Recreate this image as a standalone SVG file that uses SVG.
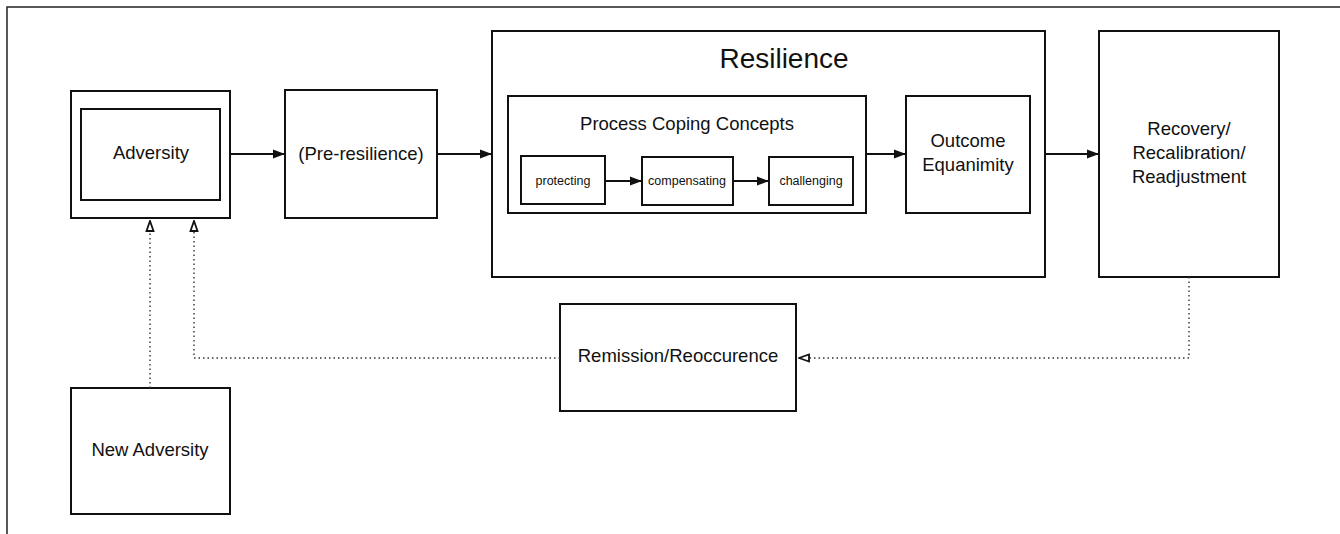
<svg xmlns="http://www.w3.org/2000/svg" width="1340" height="534" viewBox="0 0 1340 534">
<style>
.box{fill:#fff;stroke:#111;stroke-width:2}
.t{font-family:"Liberation Sans",Arial,sans-serif;fill:#111;text-anchor:middle}
.m{font-size:18.5px}
.s{font-size:12.5px}
.c{fill:none;stroke:#111;stroke-width:2}
.d{fill:none;stroke:#333;stroke-width:1.4;stroke-dasharray:1.5 3}
</style>
<defs>
<marker id="a" viewBox="0 0 12 10" refX="12" refY="5" markerWidth="12" markerHeight="10" markerUnits="userSpaceOnUse" orient="auto">
<path d="M0,0.5 L12,5 L0,9.5 Z" fill="#111"/>
</marker>
<marker id="o" viewBox="0 0 12 10" refX="11" refY="5" markerWidth="12" markerHeight="10" markerUnits="userSpaceOnUse" orient="auto">
<path d="M1,1.5 L11,5 L1,8.5 Z" fill="#fff" stroke="#111" stroke-width="1.8"/>
</marker>
</defs>
<rect width="1340" height="534" fill="#fff"/>
<path d="M7,534 V7 H1340" fill="none" stroke="#222" stroke-width="1.5"/>
<g id="adversity">
<rect class="box" x="71" y="91" width="159" height="127"/>
<rect class="box" x="81" y="109" width="139" height="91"/>
<text class="t m" x="151" y="159">Adversity</text>
</g>
<g id="pre-resilience">
<rect class="box" x="285" y="90" width="152" height="128"/>
<text class="t m" x="361" y="160">(Pre-resilience)</text>
</g>
<g id="resilience">
<rect class="box" x="492" y="31" width="553" height="246"/>
<text class="t" font-size="28" x="784" y="68">Resilience</text>
</g>
<g id="process-coping">
<rect class="box" x="508" y="96" width="358" height="117"/>
<text class="t m" x="687" y="130">Process Coping Concepts</text>
</g>
<g id="protecting">
<rect class="box" x="521" y="156" width="84" height="48"/>
<text class="t s" x="563" y="185">protecting</text>
</g>
<g id="compensating">
<rect class="box" x="642" y="157" width="91" height="48"/>
<text class="t s" x="687" y="185">compensating</text>
</g>
<g id="challenging">
<rect class="box" x="769" y="157" width="84" height="48"/>
<text class="t s" x="811" y="185">challenging</text>
</g>
<g id="outcome">
<rect class="box" x="906" y="96" width="124" height="117"/>
<text class="t m" x="968" y="147">Outcome</text>
<text class="t m" x="968" y="171">Equanimity</text>
</g>
<g id="recovery">
<rect class="box" x="1099" y="31" width="180" height="246"/>
<text class="t m" x="1189" y="135">Recovery/</text>
<text class="t m" x="1189" y="159">Recalibration/</text>
<text class="t m" x="1189" y="183">Readjustment</text>
</g>
<g id="remission">
<rect class="box" x="560" y="304" width="236" height="107"/>
<text class="t m" x="678" y="362">Remission/Reoccurence</text>
</g>
<g id="new-adversity">
<rect class="box" x="71" y="388" width="159" height="126"/>
<text class="t m" x="150" y="456">New Adversity</text>
</g>
<g id="connectors">
<line class="c" x1="230" y1="154" x2="285" y2="154" marker-end="url(#a)"/>
<line class="c" x1="437" y1="154" x2="492" y2="154" marker-end="url(#a)"/>
<line class="c" x1="866" y1="154" x2="906" y2="154" marker-end="url(#a)"/>
<line class="c" x1="1045" y1="154" x2="1099" y2="154" marker-end="url(#a)"/>
<line class="c" stroke-width="1.6" x1="605" y1="181" x2="642" y2="181" marker-end="url(#a)"/>
<line class="c" stroke-width="1.6" x1="733" y1="181" x2="769" y2="181" marker-end="url(#a)"/>
<polyline class="d" points="1189,277 1189,358 799,358" marker-end="url(#o)"/>
<polyline class="d" points="560,358 194,358 194,221" marker-end="url(#o)"/>
<line class="d" x1="150" y1="388" x2="150" y2="221" marker-end="url(#o)"/>
</g>
</svg>
